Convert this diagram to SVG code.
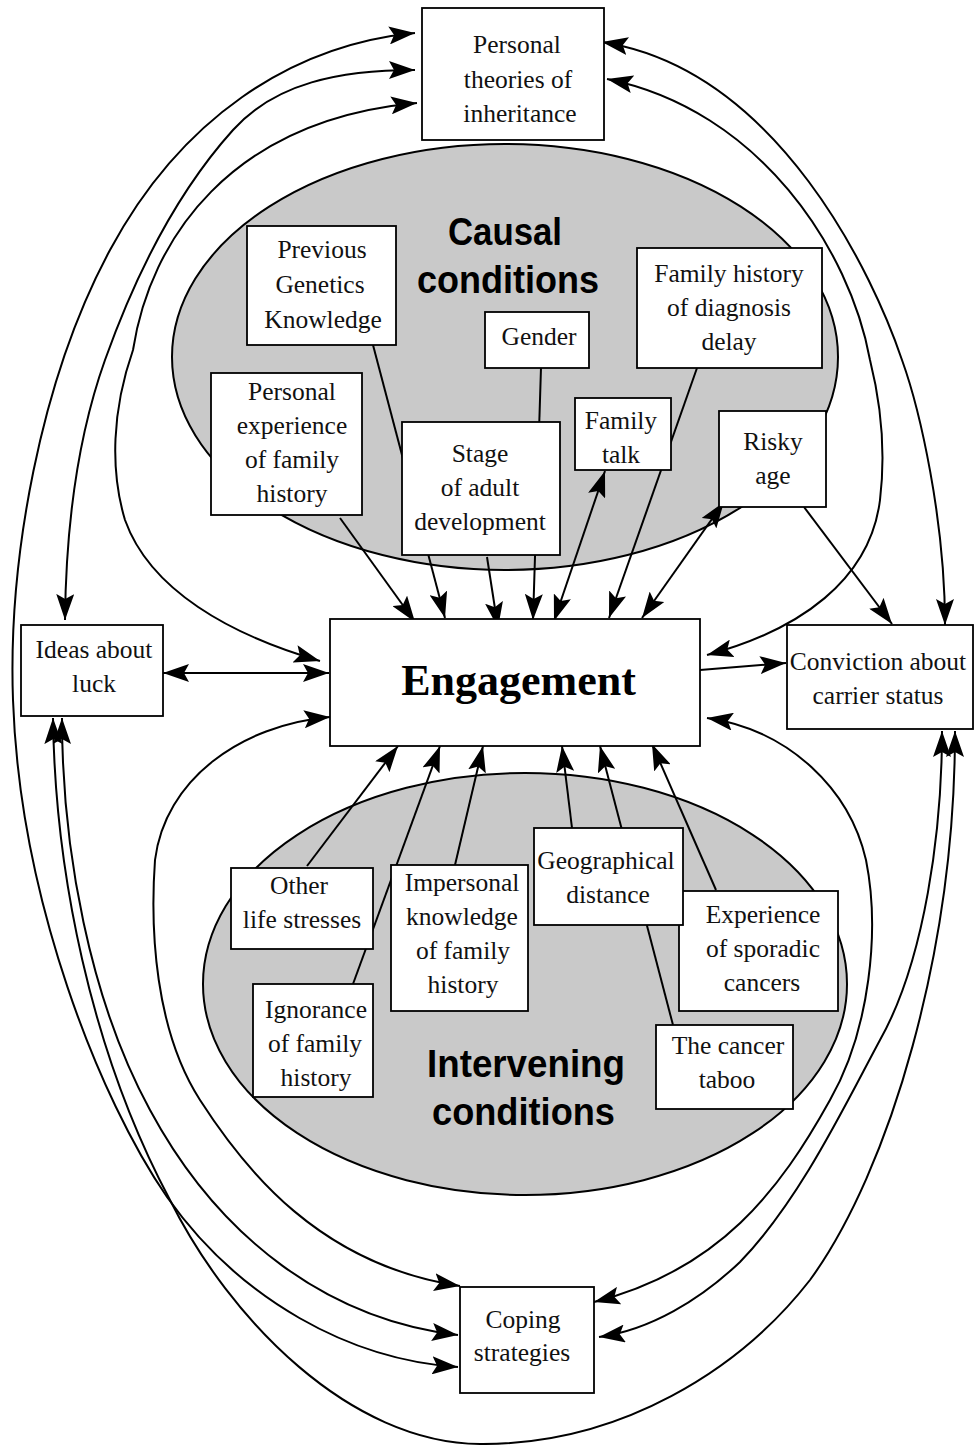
<svg xmlns="http://www.w3.org/2000/svg" width="974" height="1445" viewBox="0 0 974 1445">
<defs>
<marker id="ah" viewBox="0 0 26 18" refX="26" refY="9" markerWidth="26" markerHeight="18" markerUnits="userSpaceOnUse" orient="auto-start-reverse"><path d="M0,0 L26,9 L0,18 L5,9 Z" fill="#000"/></marker>
<style>
.box{fill:#fff;stroke:#000;stroke-width:1.8}
.t{font-family:"Liberation Serif","Times New Roman",serif;font-size:25.5px;fill:#111;text-anchor:middle}
.c{fill:none;stroke:#000;stroke-width:2}
.e{fill:#c9c9c9;stroke:#000;stroke-width:2}
.h{font-family:"Liberation Sans",Arial,sans-serif;font-weight:bold;font-size:38px;fill:#000}
.a{marker-end:url(#ah)}
.b{marker-start:url(#ah);marker-end:url(#ah)}
</style>
</defs>
<rect width="974" height="1445" fill="#fff"/>
<g id="regions">
<ellipse class="e" cx="505" cy="357" rx="333" ry="213"/>
<ellipse class="e" cx="525" cy="984" rx="322" ry="211"/>
<text class="h" x="448" y="245" textLength="114" lengthAdjust="spacingAndGlyphs">Causal</text>
<text class="h" x="417" y="293" textLength="182" lengthAdjust="spacingAndGlyphs">conditions</text>
<text class="h" x="427" y="1077" textLength="198" lengthAdjust="spacingAndGlyphs">Intervening</text>
<text class="h" x="432" y="1125" textLength="183" lengthAdjust="spacingAndGlyphs">conditions</text>
</g>
<g id="connectors">
<!-- curves -->
<path class="c b" d="M458,1367 C350,1360 240,1300 167,1197 C100,1100 20,900 13,700 C8,560 40,380 110,250 C180,120 290,45 415,33"/>
<path class="c b" d="M65,620 C66,520 80,430 105,360 C130,290 170,200 233,130 C275,83 340,70 415,70"/>
<path class="c b" d="M320,661 C230,635 150,590 125,520 C110,470 112,410 133,350 C150,240 230,120 417,103"/>
<path class="c b" d="M945,625 C945,520 920,410 902,360 C875,280 780,70 602,42"/>
<path class="c b" d="M707,655 C800,630 870,580 880,500 C886,450 880,400 870,360 C850,250 760,110 607,79"/>
<path class="c b" d="M330,717 C240,725 165,780 155,860 C150,930 155,1030 200,1100 C245,1170 320,1265 460,1286"/>
<path class="c b" d="M707,718 C790,730 850,790 866,860 C880,930 870,1030 830,1100 C780,1190 720,1270 594,1302"/>
<path class="c b" d="M942,731 C942,830 925,960 880,1040 C845,1105 800,1200 740,1262 C700,1300 650,1330 599,1337"/>
<path class="c b" d="M53,718 C55,870 90,1050 170,1200 C230,1320 350,1443 480,1444 C620,1445 740,1370 810,1280 C890,1170 955,950 955,731"/>
<path class="c b" d="M62,718 C62,850 90,1000 150,1110 C220,1240 330,1320 458,1335"/>
<!-- straight -->
<line class="c b" x1="163" y1="673" x2="329" y2="673"/>
<line class="c a" x1="700" y1="670" x2="786" y2="663"/>
<line class="c a" x1="340" y1="518" x2="415" y2="622"/>
<line class="c a" x1="373" y1="345" x2="445" y2="618"/>
<line class="c a" x1="487" y1="557" x2="498" y2="628"/>
<line class="c a" x1="541" y1="368" x2="533" y2="620"/>
<line class="c b" x1="554" y1="621" x2="605" y2="471"/>
<line class="c a" x1="697" y1="368" x2="609" y2="618"/>
<line class="c b" x1="642" y1="618" x2="724" y2="502"/>
<line class="c a" x1="804" y1="507" x2="892" y2="624"/>
<line class="c a" x1="307" y1="866" x2="398" y2="746"/>
<line class="c a" x1="353" y1="984" x2="440" y2="746"/>
<line class="c a" x1="455" y1="865" x2="483" y2="746"/>
<line class="c a" x1="572" y1="828" x2="562" y2="746"/>
<line class="c a" x1="673" y1="1025" x2="600" y2="746"/>
<line class="c a" x1="716" y1="890" x2="652" y2="744"/>
</g>
<g id="n-theories"><rect class="box" x="422" y="8" width="182" height="132"/><text class="t"><tspan x="517" y="53">Personal</tspan><tspan x="518" y="88">theories of</tspan><tspan x="520" y="122">inheritance</tspan></text></g>
<g id="n-prevgen"><rect class="box" x="247" y="226" width="149" height="119"/><text class="t"><tspan x="322" y="258">Previous</tspan><tspan x="320" y="293">Genetics</tspan><tspan x="323" y="328">Knowledge</tspan></text></g>
<g id="n-gender"><rect class="box" x="485" y="312" width="104" height="56"/><text class="t" x="539" y="345">Gender</text></g>
<g id="n-fhdelay"><rect class="box" x="637" y="248" width="185" height="120"/><text class="t"><tspan x="729" y="282">Family history</tspan><tspan x="729" y="316">of diagnosis</tspan><tspan x="729" y="350">delay</tspan></text></g>
<g id="n-persexp"><rect class="box" x="211" y="373" width="151" height="142"/><text class="t"><tspan x="292" y="400">Personal</tspan><tspan x="292" y="434">experience</tspan><tspan x="292" y="468">of family</tspan><tspan x="292" y="502">history</tspan></text></g>
<g id="n-stage"><rect class="box" x="402" y="422" width="158" height="133"/><text class="t"><tspan x="480" y="462">Stage</tspan><tspan x="480" y="496">of adult</tspan><tspan x="480" y="530">development</tspan></text></g>
<g id="n-famtalk"><rect class="box" x="575" y="398" width="96" height="72"/><text class="t"><tspan x="621" y="429">Family</tspan><tspan x="621" y="463">talk</tspan></text></g>
<g id="n-risky"><rect class="box" x="719" y="411" width="107" height="96"/><text class="t"><tspan x="773" y="450">Risky</tspan><tspan x="773" y="484">age</tspan></text></g>
<g id="n-luck"><rect class="box" x="21" y="625" width="142" height="91"/><text class="t"><tspan x="94" y="658">Ideas about</tspan><tspan x="94" y="692">luck</tspan></text></g>
<g id="n-engagement"><rect class="box" x="330" y="619" width="370" height="127"/><text x="518.5" y="695" text-anchor="middle" font-family="Liberation Serif, Times New Roman, serif" font-weight="bold" font-size="44" fill="#000">Engagement</text></g>
<g id="n-conviction"><rect class="box" x="787" y="625" width="186" height="104"/><text class="t"><tspan x="878" y="670">Conviction about</tspan><tspan x="878" y="704">carrier status</tspan></text></g>
<g id="n-sporadic"><rect class="box" x="679" y="891" width="159" height="120"/><text class="t"><tspan x="763" y="923">Experience</tspan><tspan x="763" y="957">of sporadic</tspan><tspan x="762" y="991">cancers</tspan></text></g>
<g id="n-geo"><rect class="box" x="534" y="828" width="149" height="97"/><text class="t"><tspan x="606" y="869">Geographical</tspan><tspan x="608" y="903">distance</tspan></text></g>
<g id="n-stresses"><rect class="box" x="231" y="868" width="142" height="81"/><text class="t"><tspan x="299" y="894">Other</tspan><tspan x="302" y="928">life stresses</tspan></text></g>
<g id="n-impersonal"><rect class="box" x="391" y="865" width="137" height="146"/><text class="t"><tspan x="462" y="891">Impersonal</tspan><tspan x="462" y="925">knowledge</tspan><tspan x="463" y="959">of family</tspan><tspan x="463" y="993">history</tspan></text></g>
<g id="n-ignorance"><rect class="box" x="253" y="984" width="120" height="113"/><text class="t"><tspan x="316" y="1018">Ignorance</tspan><tspan x="315" y="1052">of family</tspan><tspan x="316" y="1086">history</tspan></text></g>
<g id="n-taboo"><rect class="box" x="656" y="1025" width="137" height="84"/><text class="t"><tspan x="728" y="1054">The cancer</tspan><tspan x="727" y="1088">taboo</tspan></text></g>
<g id="n-coping"><rect class="box" x="460" y="1287" width="134" height="106"/><text class="t"><tspan x="523" y="1328">Coping</tspan><tspan x="522" y="1361">strategies</tspan></text></g>
</svg>
